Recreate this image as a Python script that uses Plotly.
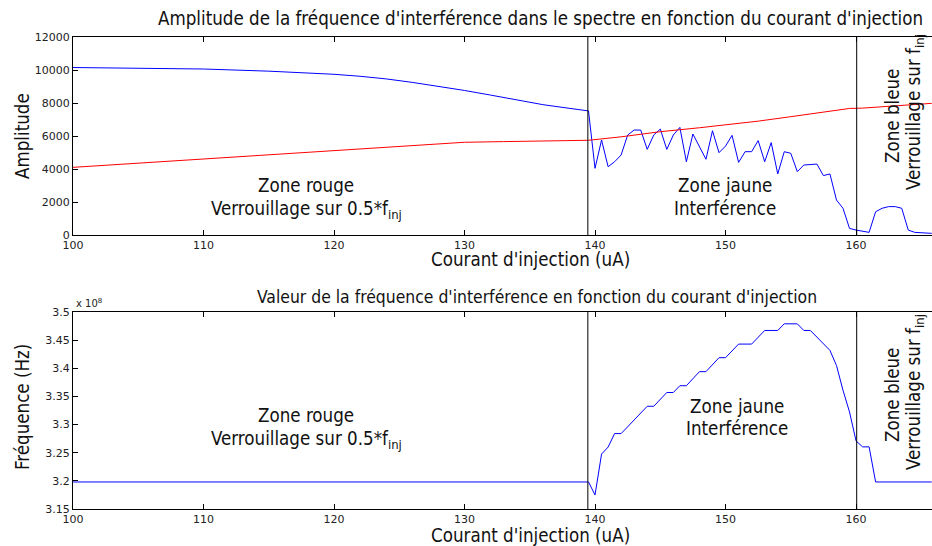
import plotly.graph_objects as go

# Injection current (uA) and amplitude of the interference frequency in the spectrum
amp_blue_x = [100, 105, 110, 115, 118, 120, 122, 124, 126, 128, 130, 132, 134, 136, 138, 139.5,
              140, 140.5, 141, 141.5, 142, 142.5, 143, 143.5, 144, 144.5, 145, 145.5, 146, 146.5,
              147, 147.5, 148.5, 149, 149.5, 150, 150.5, 151, 151.5, 152, 152.5, 153, 153.5, 154,
              154.5, 155, 155.5, 156, 157, 157.5, 158, 158.5, 159, 159.5, 160, 161, 161.5, 162,
              162.5, 163, 163.5, 164, 164.5, 165.8]
amp_blue_y = [10150, 10120, 10060, 9930, 9830, 9740, 9620, 9460, 9250, 9020, 8760, 8480, 8180, 7900, 7680, 7520,
              4040, 5760, 4140, 4440, 4850, 6060, 6360, 6360, 5190, 6060, 6420, 5190, 6060, 6520,
              4440, 6120, 4590, 6320, 4990, 5390, 6040, 4400, 5050, 5050, 5720, 4440, 5600, 3700,
              5050, 4950, 3840, 4240, 4300, 3600, 3700, 2120, 1620, 400, 300, 160, 1410, 1620,
              1720, 1720, 1620, 300, 160, 100]

amp_red_x = [100, 105, 110, 115, 120, 125, 128, 130, 133, 136, 139.5, 142, 145, 148, 151, 152.5,
             155, 157, 158.9, 159.5, 160.5, 162.7, 165.8]
amp_red_y = [4100, 4350, 4600, 4850, 5100, 5380, 5540, 5620, 5660, 5680, 5740, 5950, 6260, 6500, 6760, 6900,
             7170, 7400, 7636, 7670, 7690, 7820, 7980]

# Interference frequency (Hz) versus injection current (uA)
freq_x = [100, 139.5, 140, 140.5, 141, 141.5, 142, 144, 144.5, 145.5, 146, 146.5, 147, 148, 148.5,
          149.5, 150, 151, 152, 153, 154, 154.5, 155.5, 156, 156.5, 158, 158.5, 159, 159.5, 160,
          160.5, 161, 161.5, 165.8]
freq_y = [3.198e8, 3.198e8, 3.175e8, 3.2475e8, 3.260e8, 3.284e8, 3.284e8, 3.3325e8, 3.3325e8, 3.357e8,
          3.357e8, 3.369e8, 3.369e8, 3.394e8, 3.394e8, 3.4188e8, 3.4188e8, 3.443e8, 3.443e8, 3.4672e8,
          3.4672e8, 3.479e8, 3.479e8, 3.4672e8, 3.4672e8, 3.4318e8, 3.405e8, 3.361e8, 3.3224e8, 3.271e8,
          3.2604e8, 3.2604e8, 3.198e8, 3.198e8]

# Zone boundaries (uA)
zone_bounds = [139.45, 160.05]

x_ticks = [100, 110, 120, 130, 140, 150, 160]
amp_ticks = [0, 2000, 4000, 6000, 8000, 10000, 12000]
amp_tick_text = ["0", "2000", "4000", "6000", "8000", "10000", "12000"]
freq_ticks = [3.15, 3.2, 3.25, 3.3, 3.35, 3.4, 3.45, 3.5]
freq_tick_text = ["3.15", "3.2", "3.25", "3.3", "3.35", "3.4", "3.45", "3.5"]

W, H = 932, 546
L, R, T, B = 73, 0, 37, 37
X_RANGE = [100, 165.82]

TXT = "DejaVu Sans Condensed, DejaVu Sans, sans-serif"
TICK = "DejaVu Sans, Verdana, sans-serif"
TXT_SIZE = 18.6

fig = go.Figure()
fig.add_trace(go.Scatter(x=amp_blue_x, y=amp_blue_y, mode="lines",
                         line=dict(color="#0000ff", width=1), xaxis="x", yaxis="y"))
fig.add_trace(go.Scatter(x=amp_red_x, y=amp_red_y, mode="lines",
                         line=dict(color="#ff0000", width=1), xaxis="x", yaxis="y"))
fig.add_trace(go.Scatter(x=freq_x, y=[v / 1e8 for v in freq_y], mode="lines",
                         line=dict(color="#0000ff", width=1), xaxis="x2", yaxis="y2"))

plot_h = H - T - B


def dom(top_px, bot_px):
    return [(H - B - bot_px) / plot_h, (H - B - top_px) / plot_h]


axis_common = dict(showline=True, linecolor="black", linewidth=1, ticks="inside", ticklen=5,
                   tickcolor="black", showgrid=False, zeroline=False,
                   tickfont=dict(family=TICK, size=11, color="#222"))

fig.update_layout(
    width=W, height=H,
    margin=dict(l=L, r=R, t=T, b=B),
    paper_bgcolor="white", plot_bgcolor="white",
    showlegend=False,
    xaxis=dict(domain=[0, 1], range=X_RANGE, tickvals=x_ticks, mirror="ticks",
               anchor="y", **axis_common),
    yaxis=dict(domain=dom(37, 235), range=[0, 12000], tickvals=amp_ticks,
               ticktext=amp_tick_text, anchor="x", **axis_common),
    xaxis2=dict(domain=[0, 1], range=X_RANGE, tickvals=x_ticks, mirror="ticks",
                anchor="y2", **axis_common),
    yaxis2=dict(domain=dom(312, 509), range=[3.15, 3.5], tickvals=freq_ticks,
                ticktext=freq_tick_text, anchor="x2", **axis_common),
)

# Zone boundaries in both panels
for xr, yr in (("x", "y domain"), ("x2", "y2 domain")):
    for xb in zone_bounds:
        fig.add_shape(type="line", xref=xr, yref=yr, x0=xb, x1=xb, y0=0, y1=1,
                      line=dict(color="black", width=1))


def note_abs(text, x, y, size=TXT_SIZE, angle=0):
    """Place a centred text at a pixel position of the figure."""
    fig.add_annotation(text=text, x=(x - L) / (W - L - R), y=(H - B - y) / plot_h,
                       xref="paper", yref="paper", xanchor="center", yanchor="middle",
                       showarrow=False, textangle=angle,
                       font=dict(family=TXT, size=size, color="#111"))


# Titles
note_abs("Amplitude de la fréquence d'interférence dans le spectre en fonction du courant d'injection", 540, 18)
note_abs("Valeur de la fréquence d'interférence en fonction du courant d'injection", 537, 297, size=17.4)
note_abs("Courant d'injection (uA)", 530, 259)
note_abs("Courant d'injection (uA)", 530, 535)
note_abs("Amplitude", 22, 136, angle=-90)
note_abs("Fréquence (Hz)", 22, 407, angle=-90)

# Zone labels, upper panel
note_abs("Zone rouge", 306, 185)
note_abs("Verrouillage sur 0.5*f<sub>inj</sub>", 306, 210)
note_abs("Zone jaune", 725, 185)
note_abs("Interférence", 725, 208)
note_abs("Zone bleue", 892, 116, angle=-90)
note_abs("Verrouillage sur f<sub>inj</sub>", 915, 112, angle=-90)

# Zone labels, lower panel
note_abs("Zone rouge", 306, 415)
note_abs("Verrouillage sur 0.5*f<sub>inj</sub>", 306, 440)
note_abs("Zone jaune", 737, 406)
note_abs("Interférence", 737, 428)
note_abs("Zone bleue", 892, 395, angle=-90)
note_abs("Verrouillage sur f<sub>inj</sub>", 915, 392, angle=-90)

# Exponent label of the frequency axis
fig.add_annotation(text="x 10<sup>8</sup>", x=(74 - L) / (W - L - R), y=(H - B - 303) / plot_h,
                   xref="paper", yref="paper", xanchor="left", yanchor="middle",
                   showarrow=False, font=dict(family=TICK, size=10, color="#222"))

fig.write_html("out.html")
